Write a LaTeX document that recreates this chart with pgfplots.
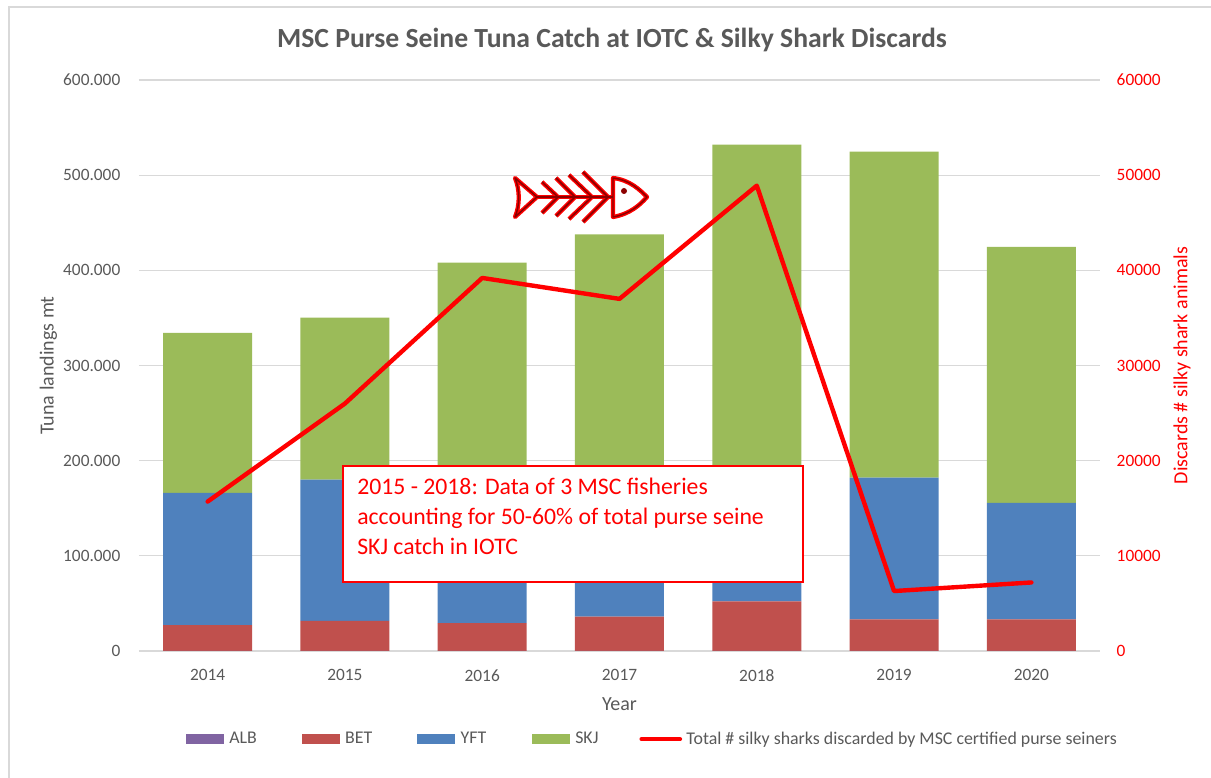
\documentclass[border=0pt]{standalone}
\usepackage{pgfplots}
\pgfplotsset{compat=1.18}
\usepackage{fontspec}
\setmainfont{Carlito}
\definecolor{txt}{RGB}{89,89,89}
\definecolor{gridc}{RGB}{217,217,217}
\definecolor{cALB}{RGB}{128,100,162}
\definecolor{cBET}{RGB}{192,80,77}
\definecolor{cYFT}{RGB}{79,129,189}
\definecolor{cSKJ}{RGB}{155,187,89}
\definecolor{fishc}{RGB}{140,0,0}
\pgfplotsset{
  swatch/.style={legend image code/.code={\fill[draw=none,##1] (0cm,-3.8pt) rectangle (28.5pt,3.8pt);}},
}
\begin{document}
\begin{tikzpicture}[x=0.75pt,y=0.75pt]
\path[use as bounding box] (0,0) rectangle (1211,778);
\draw[gridc,line width=1.5pt] (9,0) -- (9,771) -- (1211,771);
\begin{scope}[shift={(139,127)}]
\begin{axis}[
  at={(0,0)},anchor=south west,
  scale only axis,width=720.75pt,height=428.25pt,
  ybar stacked,bar width=66.75pt,
  xmin=-0.5,xmax=6.5,ymin=0,ymax=600000,
  xtick={0,...,6},xticklabels={2014,2015,2016,2017,2018,2019,2020},
  ytick={0,100000,200000,300000,400000,500000,600000},
  scaled y ticks=false,
  /pgf/number format/fixed,
  /pgf/number format/assume math mode=true,
  /pgf/number format/1000 sep={.},
  ymajorgrids,grid style={gridc,line width=0.9pt},
  axis x line*=bottom,axis y line*=left,
  x axis line style={gridc,line width=0.9pt,-},
  y axis line style={draw=none},
  major tick length=0pt,
  tick label style={font=\fontsize{13}{14}\selectfont,text=txt},
  yticklabel style={xshift=-10.5pt},
  xticklabel style={yshift=-10.5pt},
  xlabel={Year},ylabel={Tuna landings mt},
  label style={font=\fontsize{15}{16}\selectfont,text=txt},
  xlabel style={yshift=-5pt},
  ylabel style={yshift=-2.25pt},
  legend style={at={(35pt,-58.5pt)},anchor=north west,draw=none,fill=none,
    legend columns=-1,font=\fontsize{13.4}{14}\selectfont,text=txt,inner sep=0pt,
    /tikz/column 1/.style={column sep=2pt},
    /tikz/column 2/.style={column sep=31.75pt},
    /tikz/column 3/.style={column sep=2pt},
    /tikz/column 4/.style={column sep=31.75pt},
    /tikz/column 5/.style={column sep=2pt},
    /tikz/column 6/.style={column sep=32.25pt},
    /tikz/column 7/.style={column sep=2pt},
    /tikz/column 8/.style={column sep=28.75pt},
    /tikz/column 9/.style={column sep=1.25pt}},
  legend cell align=left,
  clip=false,
]
\addplot+[ybar,draw=none,fill=cALB,forget plot] coordinates {(0,200)(1,200)(2,200)(3,200)(4,200)(5,200)(6,200)};
\addplot+[ybar,draw=none,fill=cBET,forget plot] coordinates {(0,27000)(1,31500)(2,29000)(3,36000)(4,52000)(5,33000)(6,33000)};
\addplot+[ybar,draw=none,fill=cYFT,forget plot] coordinates {(0,139000)(1,148500)(2,150000)(3,150000)(4,140000)(5,149000)(6,122500)};
\addplot+[ybar,draw=none,fill=cSKJ,forget plot] coordinates {(0,168000)(1,170000)(2,229000)(3,251500)(4,340000)(5,342500)(6,269000)};
\addlegendimage{swatch,fill=cALB}\addlegendentry{ALB}
\addlegendimage{swatch,fill=cBET}\addlegendentry{BET}
\addlegendimage{swatch,fill=cYFT}\addlegendentry{YFT}
\addlegendimage{swatch,fill=cSKJ}\addlegendentry{SKJ}
\addlegendimage{legend image code/.code={\draw[red,line width=3pt,line cap=round] (1pt,0pt) -- (30pt,0pt);}}
\addlegendentry{Total \# silky sharks discarded by MSC certified purse seiners}
\end{axis}
\begin{axis}[
  at={(0,0)},anchor=south west,
  scale only axis,width=720.75pt,height=428.25pt,
  xmin=-0.5,xmax=6.5,ymin=0,ymax=60000,
  axis x line=none,axis y line*=right,
  y axis line style={draw=none},
  ytick={0,10000,...,60000},
  scaled y ticks=false,
  /pgf/number format/fixed,
  /pgf/number format/assume math mode=true,
  /pgf/number format/1000 sep={},
  major tick length=0pt,
  tick label style={font=\fontsize{13}{14}\selectfont,text=red},
  yticklabel style={xshift=9pt},
  ylabel={Discards \# silky shark animals},
  ylabel style={font=\fontsize{15}{16}\selectfont,text=red,yshift=-2.75pt},
]
\addplot[red,line width=3.3pt,line join=round,line cap=round,mark=none] coordinates {(0,15700)(1,26000)(2,39200)(3,37000)(4,48900)(5,6300)(6,7200)};
\end{axis}
\end{scope}
\node[font=\bfseries\fontsize{20.75}{24}\selectfont,text=txt] at (612,778-40) {MSC Purse Seine Tuna Catch at IOTC \& Silky Shark Discards};
\draw[red,fill=white,line width=1.8pt] (343,778-466) rectangle (803,778-582);
\node[anchor=base west,text=red,font=\fontsize{17.8}{20}\selectfont,inner sep=0pt] at (357,778-495) {2015 - 2018: Data of 3 MSC fisheries};
\node[anchor=base west,text=red,font=\fontsize{17.8}{20}\selectfont,inner sep=0pt] at (357,778-525) {accounting for 50-60\% of total purse seine};
\node[anchor=base west,text=red,font=\fontsize{17.8}{20}\selectfont,inner sep=0pt] at (357,778-555) {SKJ catch in IOTC};
% fish decoration (not data)
\begin{scope}[shift={(490,778-150)},y=-0.75pt,x=0.75pt,line join=round]
\foreach \w/\c in {3.2pt/red,1.1pt/fishc}{
  \draw[\c,line width=\w] (47,47) -- (123,47);
  \draw[\c,line width=\w] (52,32) -- (68,47) -- (52,63);
  \draw[\c,line width=\w] (66,28) -- (85,47) -- (66,66);
  \draw[\c,line width=\w] (79,25) -- (102,47) -- (79,69);
  \draw[\c,line width=\w] (93,22) -- (118,47) -- (93,72);
  \draw[\c,line width=\w] (25,28) -- (47,47) -- (25,67) .. controls (30,55) and (30,40) .. cycle;
  \draw[\c,line width=\w] (123,28) .. controls (140,30) and (150,40) .. (157,47) .. controls (150,55) and (140,64) .. (123,67) -- cycle;
}
\fill[fishc] (134,41) circle (3);
\end{scope}
\end{tikzpicture}
\end{document}
